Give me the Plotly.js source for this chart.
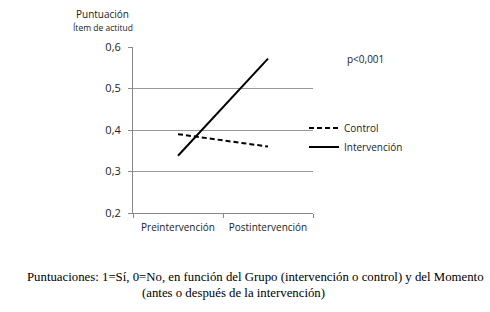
<!DOCTYPE html>
<html>
<head>
<meta charset="utf-8">
<script src="https://cdn.plot.ly/plotly-3.0.1.min.js"></script>
<style>html,body{margin:0;padding:0;background:#fff;}#chart{width:490px;height:312px;}</style>
</head>
<body>
<div id="chart"></div>
<script>
const categories = ["Preintervención", "Postintervención"];
const controlValues = [0.39, 0.36];
const intervencionValues = [0.338, 0.572];
const seriesNames = ["Control", "Intervención"];
const yTickValues = [0.2, 0.3, 0.4, 0.5, 0.6];

const fontFam = "Open Sans, sans-serif";
const traces = [
  {x: categories, y: controlValues, name: seriesNames[0], type: "scatter", mode: "lines",
   line: {color: "#000", width: 2, dash: "5px,3px"}},
  {x: categories, y: intervencionValues, name: seriesNames[1], type: "scatter", mode: "lines",
   line: {color: "#000", width: 2}}
];
const layout = {
  width: 490, height: 312,
  margin: {l: 133, r: 177, t: 47, b: 99},
  paper_bgcolor: "#fff", plot_bgcolor: "#fff",
  separators: ",.",
  font: {family: fontFam, size: 10, color: "#222"},
  showlegend: true,
  legend: {x: 0.95, xanchor: "left", y: 0.60, yanchor: "top", itemwidth: 30,
           font: {family: fontFam, size: 10, color: "#222"}, bgcolor: "rgba(0,0,0,0)",
           tracegroupgap: 0},
  xaxis: {type: "category", range: [-0.5, 1.5], tickson: "boundaries", ticks: "outside",
          ticklen: 4, tickcolor: "#888", showline: true, linecolor: "#888", linewidth: 1,
          ticklabelstandoff: 5,
          showgrid: false, fixedrange: true, tickfont: {family: fontFam, size: 10, color: "#222"}},
  yaxis: {range: [0.2, 0.6], tickvals: yTickValues, tickformat: ".1f", ticks: "outside",
          ticklen: 4, tickcolor: "#888", showline: true, linecolor: "#888", linewidth: 1,
          ticklabelstandoff: 5,
          showgrid: true, gridcolor: "#999", gridwidth: 1, zeroline: false,
          tickfont: {family: fontFam, size: 11, color: "#222"}},
  annotations: [
    {xref: "paper", yref: "paper", x: -0.17, y: 1.0, yshift: 33, xanchor: "center", yanchor: "middle",
     text: "Puntuación", showarrow: false, font: {family: fontFam, size: 10, color: "#222"}},
    {xref: "paper", yref: "paper", x: -0.165, y: 1.0, yshift: 20, xanchor: "center", yanchor: "middle",
     text: "Ítem de actitud", showarrow: false, font: {family: fontFam, size: 8.5, color: "#222"}},
    {xref: "paper", yref: "paper", x: 1.18, y: 0.93, xanchor: "left", yanchor: "middle",
     text: "p<0,001", showarrow: false, font: {family: fontFam, size: 10, color: "#222"}},
    {xref: "paper", yref: "paper", x: 0.678, y: 0, yshift: -64, xanchor: "center", yanchor: "middle",
     text: "Puntuaciones: 1=Sí, 0=No, en función del Grupo (intervención o control) y del Momento",
     showarrow: false, font: {family: "Liberation Serif, Times New Roman, serif", size: 12.8, color: "#000"}},
    {xref: "paper", yref: "paper", x: 0.556, y: 0, yshift: -80, xanchor: "center", yanchor: "middle",
     text: "(antes o después de la intervención)",
     showarrow: false, font: {family: "Liberation Serif, Times New Roman, serif", size: 12.8, color: "#000"}}
  ]
};
Plotly.newPlot("chart", traces, layout, {displayModeBar: false, staticPlot: true});
</script>
</body>
</html>
